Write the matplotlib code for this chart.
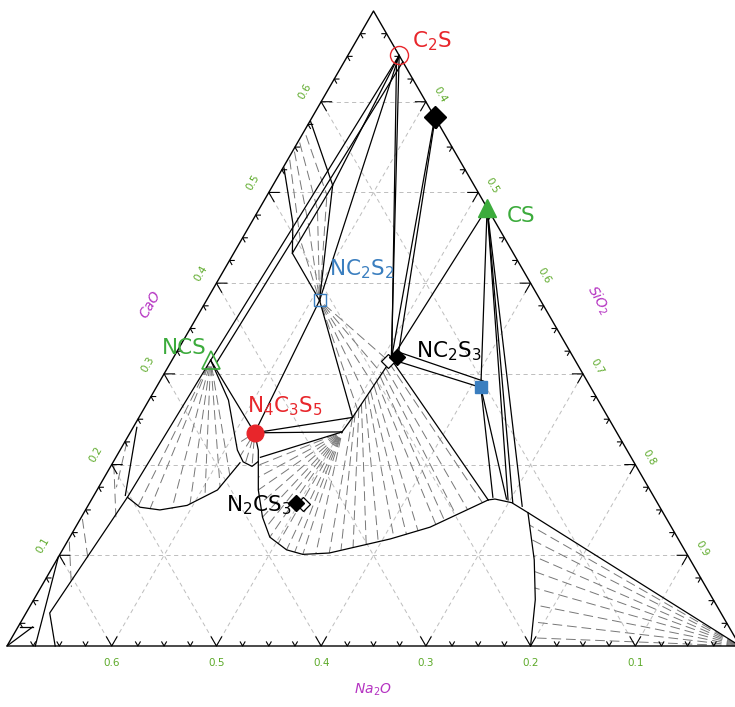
import numpy as np
import matplotlib.pyplot as plt

plt.rcParams["font.family"] = ["DejaVu Sans"]
plt.rcParams["mathtext.fontset"] = "dejavusans"
plt.rcParams["lines.scale_dashes"] = False

# All compositions are wt% (CaO, Na2O); SiO2 is the balance.
# The drawn triangle spans SiO2 >= 30 wt%.

# compounds
cmp_names = ["C$_2$S", "C3S2", "CS", "NC$_2$S$_2$", "NCS", "N$_4$C$_3$S$_5$",
             "NC$_2$S$_3$", "NC3S6", "N$_2$CS$_3$"]
cmp_cao = [65.1, 58.3, 48.3, 38.1, 31.5, 23.5, 31.6, 28.5, 15.6]
cmp_na2o = [0.0, 0.0, 0.0, 21.1, 34.8, 34.6, 17.5, 10.5, 34.4]

# extra markers drawn next to two compounds
black_dia_cao = [58.3, 31.9, 15.8]
black_dia_na2o = [0.0, 16.8, 34.5]
open_dia_cao = [31.4, 15.65]
open_dia_na2o = [17.9, 33.9]

# solid phase boundaries
c2s_lines = [
    [(65.1, 0.0), (31.5, 34.8)],
    [(64.4, 0.0), (31.3, 34.3)],
    [(65.1, 0.0), (38.1, 21.1)],
    [(65.1, 0.0), (50.8, 13.5)],
    [(65.1, 0.0), (31.6, 17.5)],
    [(64.6, 0.5), (32.1, 17.2)],
]
knee_lines = [
    [(57.8, 12.1), (50.8, 13.5), (38.1, 21.1)],
    [(52.7, 17.2), (46.6, 19.4), (43.3, 21.1), (38.1, 21.1)],
    [(50.8, 13.5), (43.3, 21.1)],
]
cs_lines = [
    [(58.3, 0.0), (31.6, 17.5)],
    [(57.9, 0.2), (32.4, 16.4)],
    [(48.3, 0.0), (31.6, 17.5)],
    [(48.3, 0.0), (28.5, 10.5)],
    [(31.6, 17.5), (28.5, 10.5)],
    [(32.4, 16.4), (29.2, 9.9)],
    [(28.5, 10.5), (16.4, 15.4)],
    [(28.5, 10.5), (16.2, 14.2)],
    [(48.3, 0.0), (16.1, 14.1)],
    [(48.3, 0.0), (15.8, 13.8)],
    [(48.3, 0.0), (15.4, 13.1)],
]
silica_lines = [
    [(31.6, 17.5), (16.1, 16.0)],
    [(16.1, 16.0), (16.2, 15.3), (15.8, 13.9), (14.7, 12.9), (0.0, 0.0)],
    [(14.7, 12.9), (9.5, 14.9), (5.1, 17.0), (0.0, 20.0)],
]
liquid_curve = [(16.1, 16.0), (13.1, 23.05), (11.8, 27.5), (10.25, 34.1),
                (10.1, 36.7), (10.6, 38.0), (12.0, 38.9), (14.2, 38.5),
                (17.2, 37.4), (21.6, 35.2), (23.5, 34.6)]
mid_lines = [
    [(31.6, 17.5), (25.2, 24.4)],
    [(38.1, 21.1), (25.2, 24.4)],
    [(38.1, 21.1), (23.5, 34.6)],
    [(23.5, 34.6), (25.2, 24.4)],
    [(23.5, 34.6), (23.6, 26.2)],
    [(20.8, 35.4), (23.6, 26.2), (25.2, 24.4)],
]
ncs_lines = [
    [(31.5, 34.8), (23.5, 34.6)],
    [(31.5, 34.8), (27.1, 35.3), (21.6, 37.2), (20.3, 37.3), (19.8, 36.7), (20.3, 35.9)],
    [(31.5, 34.8), (16.4, 50.3), (3.64, 64.1), (0.0, 65.4)],
    [(16.4, 50.3), (15.3, 49.65), (15.0, 47.9), (15.5, 45.05), (17.2, 41.3), (20.2, 37.65)],
    [(24.1, 45.55), (16.6, 50.4)],
    [(9.8, 60.2), (0.0, 67.3)],
    [(0.0, 70.0), (2.1, 66.5)],
    [(2.1, 67.7), (2.1, 66.5)],
]

# dashed tie-lines
knee_ties = [
    [(56.3, 13.3), (49.7, 14.6)],
    [(55.5, 14.3), (48.1, 16.3)],
    [(54.5, 15.3), (46.4, 18.0)],
    [(53.6, 16.2), (44.8, 19.6)],
]
strip_ties = [
    [(22.5, 47.3), (17.5, 50.8)],
    [(20.0, 49.8), (14.2, 52.5)],
    [(14.0, 55.8), (9.5, 57.5)],
    [(11.5, 58.3), (6.5, 60.6)],
]
nc2s2_tie_ends = [(49.7, 14.6), (48.1, 16.3), (46.4, 18.0), (44.8, 19.6),
                  (31.3, 17.8), (30.0, 19.2), (28.7, 20.6), (27.3, 22.0), (26.0, 23.5)]
fan_top = [(31.2, 17.9), (30.7, 18.5), (30.2, 19.0), (29.7, 19.5), (29.2, 20.1),
           (28.7, 20.6), (28.2, 21.2), (27.7, 21.7), (27.2, 22.2), (26.7, 22.8),
           (26.2, 23.3), (25.7, 23.9), (25.2, 24.4)]
fan_bottom = [(15.8, 16.7), (15.05, 18.5), (14.45, 19.9), (13.85, 21.3), (13.4, 22.35),
              (12.7, 24.4), (12.3, 25.7), (11.9, 27.1), (11.5, 28.8), (11.2, 30.1),
              (10.9, 31.5), (10.6, 32.8), (10.25, 34.1)]
kink_tie_ends = [(10.2, 35.4), (10.1, 36.7), (10.35, 37.35), (10.6, 38.0), (11.3, 38.45),
                 (12.0, 38.9), (13.1, 38.7), (14.2, 38.5), (15.7, 37.95), (17.2, 37.4),
                 (18.6, 36.7), (19.9, 36.1)]
n4c3s5_tie_ends = [(22.2, 37.0), (20.9, 37.3), (20.1, 37.2), (19.8, 36.7)]
ncs_tie_ends = [(15.5, 49.7), (15.1, 48.8), (15.1, 46.7), (15.65, 44.7),
                (16.4, 42.9), (17.5, 40.9), (18.85, 39.3)]
silica_tie_ends = [(13.3, 13.4), (11.7, 14.0), (9.9, 14.75), (8.2, 15.5),
                   (6.4, 16.4), (4.5, 17.2), (2.65, 18.4), (0.9, 19.4)]

# ---- layout (figure pixels) ----
XL, XR, XT = 7.0, 740.0, 373.5
YB, YT = 646.0, 11.0


def proj(pts):
    arr = np.asarray(pts, float)
    a = arr[..., 0] / 70.0
    b = arr[..., 1] / 70.0
    return XR - (XR - XL) * b - (XR - XT) * a, YB - (YB - YT) * a


fig = plt.figure(figsize=(7.35, 7.07), dpi=100)
ax = fig.add_axes([0, 0, 1, 1])
ax.set_xlim(0, 735)
ax.set_ylim(707, 0)
ax.axis("off")

GRID = dict(color="#bdbdbd", lw=0.7, dashes=(3, 2.5), zorder=1)
TIE = dict(color="#777777", lw=0.7, dashes=(7, 3.5), zorder=2)
FAN = dict(color="#777777", lw=0.7, ls=(6, (7, 3.5)), zorder=2)  # starts with a gap
SOLID = dict(color="black", lw=0.9, zorder=3)

# grid
for v in range(10, 70, 10):
    ax.plot(*proj([(v, 70 - v), (v, 0)]), **GRID)
    ax.plot(*proj([(0, v), (70 - v, v)]), **GRID)
    k = 70 - v
    ax.plot(*proj([(0, k), (k, 0)]), **GRID)

# ticks
for v in np.arange(2.5, 70, 2.5):
    d = 1.0 if abs(v % 10) < 1e-6 else 0.45
    tk = dict(color="black", lw=0.8, zorder=4)
    ax.plot(*proj([(d, v), (0, v), (d, v - d)]), **tk)
    ax.plot(*proj([(v, 70 - v - d), (v, 70 - v), (v - d, 70 - v)]), **tk)
    ax.plot(*proj([(v, d), (v, 0), (v - d, d)]), **tk)

# outline
ax.plot(*proj([(0, 0), (0, 70), (70, 0), (0, 0)]), color="black", lw=1.0, zorder=4)

# tick labels
TL = dict(color="#5daa2a", fontsize=7.5, ha="center", va="center")
for v in range(10, 70, 10):
    x, y = proj((v, 70 - v))
    ax.text(x - 16, y - 10, f"{v / 100:.1f}", rotation=60, **TL)
    x, y = proj((v, 0))
    ax.text(x + 14, y - 7, f"{(100 - v) / 100:.1f}", rotation=-60, **TL)
    x, y = proj((0, v))
    ax.text(x, y + 17, f"{v / 100:.1f}", **TL)

AT = dict(color="#b533c2", fontsize=10, style="italic", ha="center", va="center")
ax.text(150, 304, "CaO", rotation=60, **AT)
ax.text(598, 300, "SiO$_2$", rotation=-60, **AT)
ax.text(373, 690, "Na$_2$O", **AT)

# phase boundaries
for group in (c2s_lines, knee_lines, cs_lines, silica_lines, mid_lines, ncs_lines):
    for poly in group:
        ax.plot(*proj(poly), **SOLID)
ax.plot(*proj(liquid_curve), **SOLID)

# tie-lines
for poly in knee_ties + strip_ties:
    ax.plot(*proj(poly), **TIE)
for p in nc2s2_tie_ends:
    ax.plot(*proj([(38.1, 21.1), p]), **FAN)
for p, q in zip(fan_top, fan_bottom):
    ax.plot(*proj([p, q]), **TIE)
for p in kink_tie_ends:
    ax.plot(*proj([(23.6, 26.2), p]), **FAN)
for p in n4c3s5_tie_ends:
    ax.plot(*proj([(23.5, 34.6), p]), **FAN)
for p in ncs_tie_ends:
    ax.plot(*proj([(31.5, 34.8), p]), **FAN)
for p in silica_tie_ends:
    ax.plot(*proj([(0.0, 0.0), p]), **TIE)

# markers
RED, GREEN, BLUE = "#e8262b", "#3cab3c", "#3a7ebf"
cx, cy = proj(np.column_stack([cmp_cao, cmp_na2o]))
ax.plot(cx[0], cy[0], "o", ms=13, mfc="none", mec=RED, mew=1.0, zorder=6)
ax.plot(cx[2], cy[2], "^", ms=13, color=GREEN, zorder=6)
ax.plot(cx[3], cy[3], "s", ms=8, mfc="none", mec=BLUE, mew=1.0, zorder=6)
ax.plot(cx[4], cy[4], "^", ms=13, mfc="none", mec=GREEN, mew=1.2, zorder=6)
ax.plot(cx[5], cy[5], "o", ms=12, color=RED, zorder=6)
ax.plot(cx[7], cy[7], "s", ms=9, color=BLUE, zorder=6)
ox, oy = proj(np.column_stack([open_dia_cao, open_dia_na2o]))
ax.plot(ox, oy, "D", ms=7, mfc="white", mec="black", mew=0.9, ls="none", zorder=6)
bx, by = proj(np.column_stack([black_dia_cao, black_dia_na2o]))
ax.plot(bx[:1], by[:1], "D", ms=11, color="black", ls="none", zorder=7)
ax.plot(bx[1:], by[1:], "D", ms=8, color="black", ls="none", zorder=7)

# compound labels (offsets in pixels from marker, text baseline)
LB = dict(fontsize=15.5, va="baseline", zorder=8)
ax.text(cx[0] + 13, cy[0] - 8, cmp_names[0], color=RED, ha="left", **LB)
ax.text(cx[2] + 20, cy[2] + 14, cmp_names[2], color=GREEN, ha="left", **LB)
ax.text(cx[3] + 9, cy[3] - 25, cmp_names[3], color=BLUE, ha="left", **LB)
ax.text(cx[4] - 4, cy[4] - 6, cmp_names[4], color=GREEN, ha="right", **LB)
ax.text(cx[5] - 8, cy[5] - 20, cmp_names[5], color=RED, ha="left", **LB)
ax.text(cx[6] + 25, cy[6] - 2, cmp_names[6], color="black", ha="left", **LB)
ax.text(cx[8] - 6, cy[8] + 7, cmp_names[8], color="black", ha="right", **LB)

fig.savefig("out.png", dpi=100)
